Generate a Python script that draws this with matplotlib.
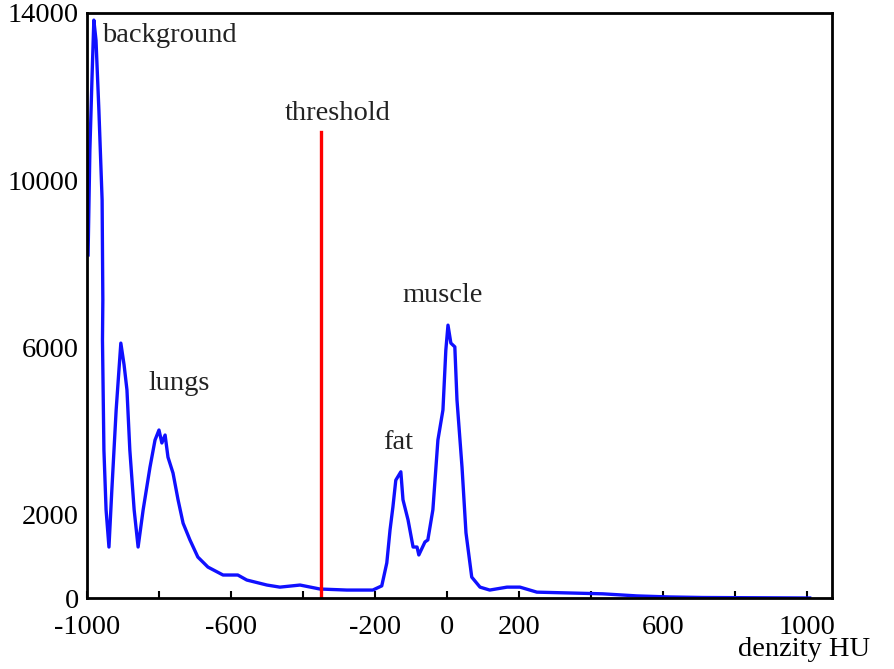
import matplotlib
matplotlib.use("Agg")
import matplotlib.pyplot as plt

# Histogram of densities (HU)
hu = [-997, -992, -986, -981, -975, -967, -958, -956, -957, -953, -947, -939,
      -931, -919, -906, -897, -889, -881, -869, -858, -844, -825, -811, -800,
      -792, -783, -775, -761, -747, -733, -714, -692, -664, -622, -581, -556,
      -500, -464, -408, -353, -278, -206, -181, -167, -158, -150, -142, -128,
      -122, -108, -94, -83, -78, -61, -53, -39, -25, -11, -3, 3, 11, 22, 28,
      42, 53, 69, 92, 119, 167, 203, 250, 342, 433, 528, 619, 711, 1008]
counts = [8210, 10720, 12470, 13830, 13350, 11680, 9520, 7130, 6170, 3540,
          2110, 1220, 2580, 4500, 6100, 5580, 4980, 3540, 2110, 1220, 2110,
          3130, 3780, 4020, 3710, 3900, 3370, 2990, 2350, 1790, 1390, 980,
          740, 550, 550, 430, 310, 260, 310, 215, 190, 190, 290, 840, 1630,
          2180, 2820, 3020, 2350, 1870, 1220, 1220, 1030, 1340, 1390, 2110,
          3780, 4500, 5930, 6530, 6100, 6010, 4740, 3130, 1560, 500, 260, 190,
          260, 260, 140, 120, 100, 50, 25, 12, 0]

threshold_hu = -350
threshold_top = 11150

xtick_pos = [-1000, -800, -600, -400, -200, 0, 200, 400, 600, 800, 1000]
xtick_lbl = ["-1000", "", "-600", "", "-200", "0", "200", "", "600", "", "1000"]
ytick_pos = [0, 2000, 6000, 10000, 14000]
ytick_lbl = ["0", "2000", "6000", "10000", "14000"]

annotations = [("background", -958, 13470, "left"),
               ("lungs", -745, 5145, "center"),
               ("threshold", -303, 11600, "center"),
               ("fat", -136, 3710, "center"),
               ("muscle", -11, 7250, "center")]

FS = 20.5
plt.rcParams['font.family'] = ['Liberation Serif', 'DejaVu Serif']
fig = plt.figure(figsize=(8.94, 6.69), dpi=100)
ax = fig.add_axes([87/894, 1-598/669, (832-87)/894, (598-13)/669])

ax.plot(hu, counts, color='#1010ff', lw=2.4, solid_joinstyle='round')
ax.plot([threshold_hu, threshold_hu], [0, threshold_top], color='#ff0000', lw=2.4)

ax.set_xlim(-1000, 1070)
ax.set_ylim(0, 14000)
ax.set_xticks(xtick_pos)
ax.set_xticklabels(xtick_lbl, fontsize=FS)
ax.set_yticks(ytick_pos)
ax.set_yticklabels(ytick_lbl, fontsize=FS)
ax.tick_params(axis='x', direction='in', length=5, width=1.5, pad=12)
ax.tick_params(axis='y', length=0, pad=6)
for s in ax.spines.values():
    s.set_linewidth(2)
    s.set_color('black')

for txt, x, y, ha in annotations:
    ax.text(x, y, txt, fontsize=FS, ha=ha, va='center', color='#222222')

fig.text(870/894, 1-650/669, "denzity HU", fontsize=FS, ha='right', va='center')

fig.savefig("out.png", dpi=100)
